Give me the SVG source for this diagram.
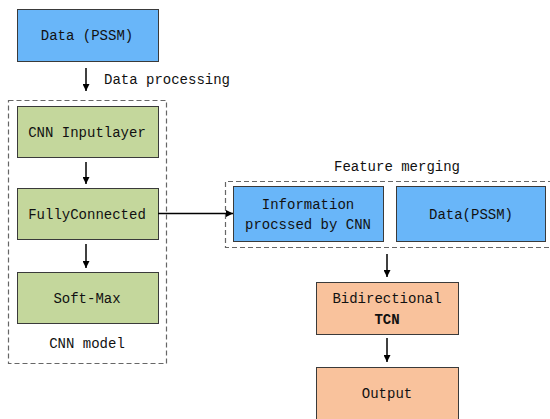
<svg xmlns="http://www.w3.org/2000/svg" width="550" height="419" viewBox="0 0 550 419">
<style>
text{font-family:"Liberation Mono","DejaVu Sans Mono",monospace;font-size:14px;fill:#111;text-anchor:middle}
.blue{fill:#69b6f9;stroke:#3a3a3a;stroke-width:1}
.green{fill:#c4d79c;stroke:#3a3a3a;stroke-width:1}
.orange{fill:#f9c29c;stroke:#3a3a3a;stroke-width:1}
.dash{fill:none;stroke:#666;stroke-width:1.2;stroke-dasharray:5,3}
.conn{stroke:#000;stroke-width:1.5;fill:none;marker-end:url(#ah)}
</style>
<defs>
<marker id="ah" viewBox="0 0 10 10" refX="10" refY="5" markerWidth="7" markerHeight="7" markerUnits="userSpaceOnUse" orient="auto">
<path d="M0,0 L10,5 L0,10 z" fill="#000"/>
</marker>
</defs>
<rect width="550" height="419" fill="#fff"/>
<g id="cnn-model-group">
<rect class="dash" x="8.5" y="100.5" width="158" height="263"/>
<text x="87" y="348">CNN model</text>
</g>
<g id="feature-merging-group">
<path class="dash" d="M553,181.5 H225.5 V247.5 H553"/>
<text x="397" y="171">Feature merging</text>
</g>
<g id="data-pssm">
<rect class="blue" x="17.5" y="9.5" width="141" height="52"/>
<text x="87" y="40">Data (PSSM)</text>
</g>
<g id="cnn-inputlayer">
<rect class="green" x="17.5" y="106.5" width="141" height="51"/>
<text x="87" y="137">CNN Inputlayer</text>
</g>
<g id="fullyconnected">
<rect class="green" x="17.5" y="188.5" width="141" height="51"/>
<text x="87" y="219">FullyConnected</text>
</g>
<g id="softmax">
<rect class="green" x="17.5" y="272.5" width="141" height="51"/>
<text x="87" y="303">Soft-Max</text>
</g>
<g id="information">
<rect class="blue" x="233.5" y="186.5" width="150" height="55"/>
<text x="308" y="209">Information</text>
<text x="308" y="229">procssed by CNN</text>
</g>
<g id="data-pssm-2">
<rect class="blue" x="396.5" y="186.5" width="149" height="55"/>
<text x="471" y="219">Data(PSSM)</text>
</g>
<g id="bidirectional-tcn">
<rect class="orange" x="316.5" y="282.5" width="142" height="52"/>
<text x="387" y="303">Bidirectional</text>
<text x="387" y="324" font-weight="bold">TCN</text>
</g>
<g id="output">
<rect class="orange" x="316.5" y="367.5" width="142" height="52"/>
<text x="387" y="398">Output</text>
</g>
<g id="connectors">
<line class="conn" x1="86" y1="68" x2="86" y2="91"/>
<text x="167" y="84">Data processing</text>
<line class="conn" x1="86" y1="162" x2="86" y2="184"/>
<line class="conn" x1="86" y1="244" x2="86" y2="268"/>
<line class="conn" x1="158" y1="213.5" x2="233" y2="213.5"/>
<line class="conn" x1="387" y1="254" x2="387" y2="277"/>
<line class="conn" x1="387" y1="338" x2="387" y2="362"/>
</g>
</svg>
